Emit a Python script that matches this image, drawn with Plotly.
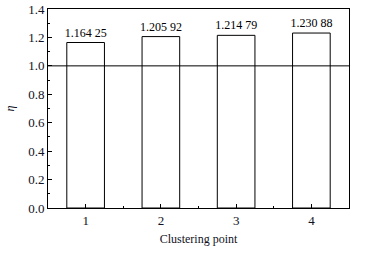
import plotly.graph_objects as go

categories = [1, 2, 3, 4]
eta_values = [1.16425, 1.20592, 1.21479, 1.23088]
bar_labels = ["1.164 25", "1.205 92", "1.214 79", "1.230 88"]
y_ticks = [0.0, 0.2, 0.4, 0.6, 0.8, 1.0, 1.2, 1.4]
y_tick_labels = ["0.0", "0.2", "0.4", "0.6", "0.8", "1.0", "1.2", "1.4"]
reference_level = 1.0

font_family = "Liberation Serif, Times New Roman, serif"

fig = go.Figure()
fig.add_trace(go.Bar(
    x=categories, y=eta_values, width=0.5,
    marker=dict(color="white", line=dict(color="black", width=1)),
    text=bar_labels, textposition="outside", cliponaxis=False,
    textfont=dict(family=font_family, size=12, color="black"),
    showlegend=False,
))
fig.add_shape(type="line", xref="paper", x0=0, x1=1, yref="y",
              y0=reference_level, y1=reference_level,
              line=dict(color="black", width=1))

fig.update_layout(
    width=370, height=254, autosize=False,
    margin=dict(l=48, r=21, t=9, b=46, pad=0, autoexpand=False),
    paper_bgcolor="white", plot_bgcolor="white",
    font=dict(family=font_family, color="#111122", size=13),
    uniformtext=dict(minsize=12, mode="show"),
    xaxis=dict(
        range=[0.5, 4.5], tickvals=categories, ticktext=[str(c) for c in categories],
        ticks="inside", ticklen=4, tickcolor="black", automargin=False,
        minor=dict(tickvals=[1.5, 2.5, 3.5], ticks="inside", ticklen=2, tickcolor="black"),
        showline=True, linecolor="black", linewidth=1, mirror=True,
        showgrid=False, zeroline=False,
        title=dict(text="Clustering point", font=dict(size=12), standoff=8),
        tickfont=dict(size=13),
    ),
    yaxis=dict(
        range=[0, 1.4], tickvals=y_ticks, ticktext=y_tick_labels,
        ticks="inside", ticklen=4, tickcolor="black", automargin=False,
        minor=dict(dtick=0.1, ticks="inside", ticklen=2, tickcolor="black"),
        showline=True, linecolor="black", linewidth=1, mirror=True,
        showgrid=False, zeroline=False,
        title=dict(text="<i>η</i>", font=dict(size=12), standoff=10),
        tickfont=dict(size=13),
    ),
)

fig.write_html(
    "out.html",
    config={"displayModeBar": False},
    post_script="document.body.style.margin='0';document.body.style.padding='0';document.body.style.overflow='hidden';",
)
